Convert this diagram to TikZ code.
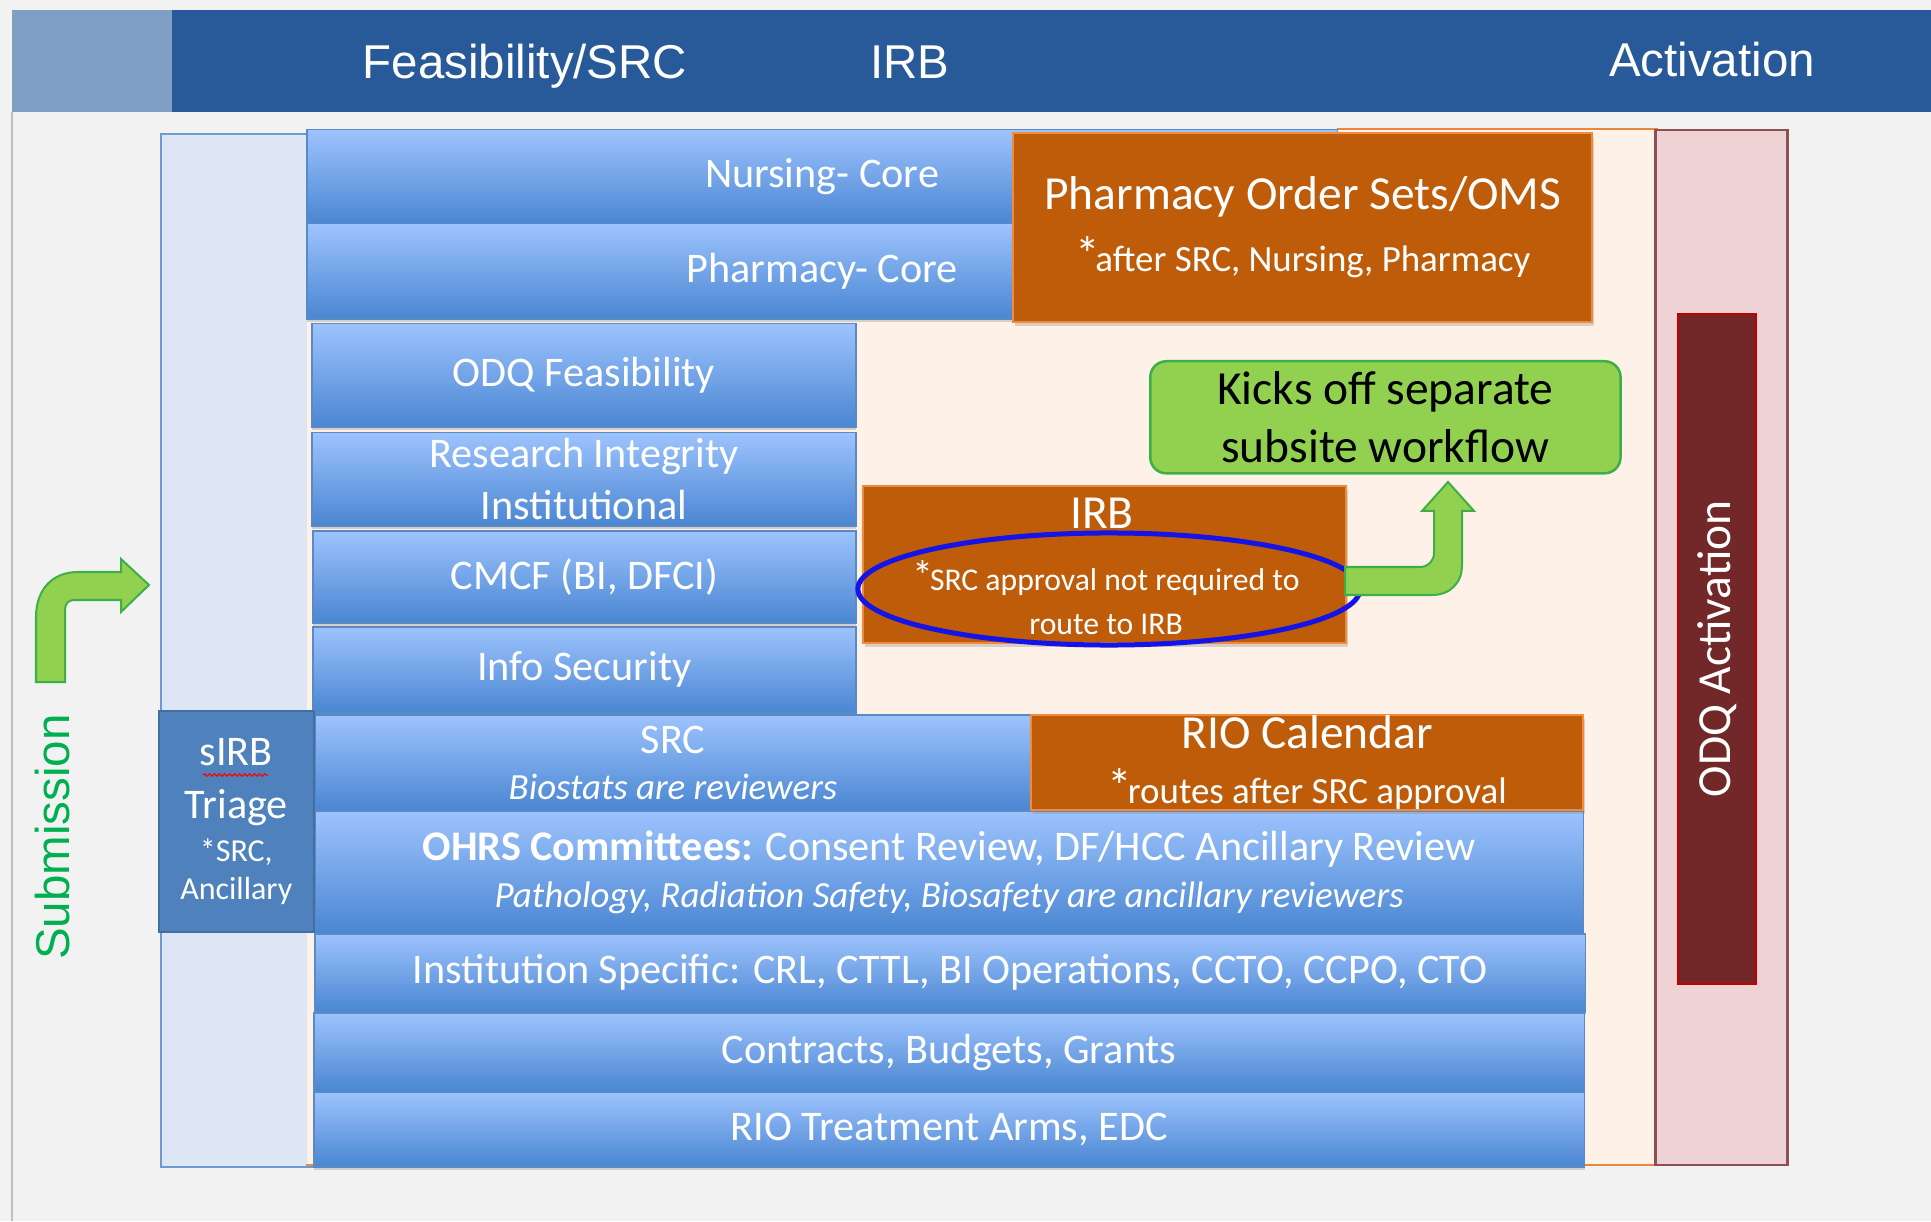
\documentclass[tikz,border=0pt]{standalone}
\usepackage{fontspec}
\setmainfont{Carlito}
\newfontfamily\hdrfont{Liberation Sans}
\usetikzlibrary{positioning,shapes.geometric,shadows,decorations.pathmorphing}
\definecolor{slidebg}{HTML}{F2F2F2}
\definecolor{bandblue}{HTML}{285A99}
\definecolor{bandlight}{HTML}{7F9FC4}
\definecolor{panelblue}{HTML}{DCE6F4}
\definecolor{panelline}{HTML}{6F9AD0}
\definecolor{peach}{HTML}{FDF1E8}
\definecolor{peachline}{HTML}{E9873A}
\definecolor{pinkpanel}{HTML}{EFD3D4}
\definecolor{pinkline}{HTML}{8F5052}
\definecolor{wine}{HTML}{722828}
\definecolor{wineline}{HTML}{C00000}
\definecolor{bartop}{HTML}{9DC3FD}
\definecolor{barbot}{HTML}{4A86D2}
\definecolor{barline}{HTML}{5A8AC6}
\definecolor{rust}{HTML}{BE5C0A}
\definecolor{rustline}{HTML}{F08A3C}
\definecolor{triage}{HTML}{4F81BD}
\definecolor{leaf}{HTML}{92D050}
\definecolor{leafline}{HTML}{3DAE49}
\definecolor{subgreen}{HTML}{00B050}
\definecolor{ringblue}{HTML}{1414E6}
\newcommand\fbig{\fontsize{13.5}{16.5}\selectfont}
\newcommand\fmid{\fontsize{12}{14.8}\selectfont}
\newcommand\fsml{\fontsize{10.5}{13}\selectfont}
\newcommand\astk{{\fontsize{14}{14}\selectfont*}\kern-1.2pt}

\begin{document}
\begin{tikzpicture}[x=0.01cm,y=-0.01cm,
  hdr/.style={text=white,font=\hdrfont\fontsize{13.5}{16}\selectfont},
  panel/.style={line width=0.02cm,inner sep=0pt,anchor=north west},
  bar/.style={draw=barline,line width=0.015cm,top color=bartop,bottom color=barbot,text=white,inner sep=0pt,anchor=north west,align=center,font=\fmid,drop shadow={shadow xshift=0cm,shadow yshift=-0.03cm,opacity=0.3}},
  rustbox/.style={draw=rustline,line width=0.02cm,fill=rust,text=white,inner sep=0pt,anchor=north west,align=center,drop shadow={shadow xshift=0.02cm,shadow yshift=-0.04cm,opacity=0.3}},
  fatarrow/.style={fill=leaf,draw=leafline,line width=0.02cm}]

  \fill[slidebg] (0,0) rectangle (1931,1221);
  \draw[black!25,line width=0.02cm] (12,112) -- (12,1221);
  \fill[bandblue] (12,10) rectangle (1931,112);
  \fill[bandlight] (12,10) rectangle (172,112);
  \node[hdr] (hfeas) at (525,66) {Feasibility/SRC};
  \node[hdr] (hirb) at (910,62) {IRB};
  \node[hdr] (hact) at (1712,60) {Activation};

  \node[panel,draw=panelline,fill=panelblue,minimum width=1.6cm,minimum height=10.32cm] (subpanel) at (160,133) {};
  \node[panel,fill=peach,minimum width=13.48cm,minimum height=10.33cm] (irbpanel) at (306,129) {};
  \draw[peachline,line width=0.02cm] ([xshift=10.30cm]irbpanel.north west) -- (irbpanel.north east) -- (irbpanel.south east) -- (irbpanel.south west);
  \node[panel,draw=pinkline,line width=0.025cm,fill=pinkpanel,minimum width=1.32cm,minimum height=10.34cm] (actpanel) at (1654,129) {};
  \node[draw=wineline,fill=wine,line width=0.02cm,inner sep=0pt,rotate=90,minimum width=6.70cm,minimum height=0.78cm,text=white,font=\fbig] (odqact) at (1717,649) {ODQ Activation};

  \path[fatarrow] (36,682) -- (36,617) .. controls (36,590) and (52,572) .. (78,572) -- (121,572) -- (121,559) -- (149,585) -- (121,612) -- (121,600) -- (74,600) .. controls (68,600) and (65,604) .. (65,610) -- (65,682) -- cycle;
  \node[rotate=90,text=subgreen,font=\hdrfont\fontsize{13.5}{16}\selectfont] (subm) at (53,837) {Submission};

  \node[bar,minimum width=10.30cm,minimum height=0.94cm] (nursing) at (306,129) {Nursing- Core};
  \node[bar,minimum width=10.30cm,minimum height=0.95cm] (pharmcore) at (306,223) {Pharmacy- Core};
  \node[bar,minimum width=5.44cm,minimum height=1.03cm] (odq) at (311,323) {ODQ Feasibility};
  \node[bar,minimum width=5.44cm,minimum height=0.93cm] (rii) at (311,432) {Research Integrity\\Institutional};
  \node[bar,minimum width=5.43cm,minimum height=0.92cm] (cmcf) at (312,530) {CMCF (BI, DFCI)};
  \node[bar,minimum width=5.43cm,minimum height=0.86cm] (infosec) at (312,626) {Info Security};
  \node[bar,minimum width=7.16cm,minimum height=0.96cm,font=\fontsize{12}{13.1}\selectfont] (src) at (314,714) {SRC\\{\fsml\itshape Biostats are reviewers}};
  \node[bar,minimum width=12.68cm,minimum height=1.23cm,font=\fontsize{12}{13.4}\selectfont] (ohrs) at (314,810) {\textbf{OHRS Committees:} Consent Review, DF/HCC Ancillary Review\\{\fsml\itshape Pathology, Radiation Safety, Biosafety are ancillary reviewers}};
  \node[bar,minimum width=12.70cm,minimum height=0.78cm] (inst) at (314,933) {Institution Specific: CRL, CTTL, BI Operations, CCTO, CCPO, CTO};
  \node[bar,minimum width=12.70cm,minimum height=0.79cm] (contracts) at (313,1012) {Contracts, Budgets, Grants};
  \node[bar,minimum width=12.70cm,minimum height=0.75cm] (riotreat) at (313,1091) {RIO Treatment Arms, EDC};

  \node[rustbox,minimum width=5.79cm,minimum height=1.89cm,font=\fontsize{13.5}{17.6}\selectfont] (pharmos) at (1012,132) {Pharmacy Order Sets/OMS\\{\fsml\astk after SRC, Nursing, Pharmacy}};
  \node[rustbox,minimum width=5.52cm,minimum height=0.95cm,font=\fontsize{13.5}{15.9}\selectfont] (riocal) at (1030,714) {RIO Calendar\\{\fsml\astk routes after SRC approval}};
  \node[rustbox,minimum width=4.83cm,minimum height=1.57cm] (irb) at (862,485) {};
  \node[text=white,font=\fbig] (irbtitle) at (1102,513) {IRB};
  \node[ellipse,draw=ringblue,line width=0.05cm,minimum width=5.02cm,minimum height=1.12cm,inner sep=0pt] (ring) at (1109,589) {};
  \node[text=white,align=center,font=\fontsize{9}{12.5}\selectfont] (irbnote) at (1106,598) {{\fontsize{12}{12}\selectfont*}\kern-1pt SRC approval not required to\\route to IRB};

  \node[fill=triage,draw=triage!85!black,line width=0.015cm,minimum width=1.55cm,minimum height=2.21cm,anchor=north west,inner sep=0pt,text=white,align=center,font=\fontsize{9.1}{10.8}\selectfont] (sirb) at (158,710) {{\fmid sIRB}\\[4.3pt]{\fmid Triage}\\[1.4pt]*SRC,\\Ancillary};
  \draw[red,line width=0.012cm,decorate,decoration={snake,amplitude=0.012cm,segment length=0.05cm}] (203,775) -- (268,775);

  \node[draw=leafline,fill=leaf,rounded corners=0.16cm,line width=0.025cm,minimum width=4.70cm,minimum height=1.12cm,anchor=north west,inner sep=0pt,align=center,font=\fontsize{13.5}{16.5}\selectfont] (kick) at (1149,360) {Kicks off separate\\subsite workflow};
  \path[fatarrow] (1345,567) -- (1420,567) .. controls (1428,567) and (1434,561) .. (1434,553) -- (1434,511) -- (1422,511) -- (1448,482) -- (1474,511) -- (1462,511) -- (1462,565) .. controls (1462,583) and (1450,595) .. (1432,595) -- (1345,595) -- cycle;
\end{tikzpicture}
\end{document}
